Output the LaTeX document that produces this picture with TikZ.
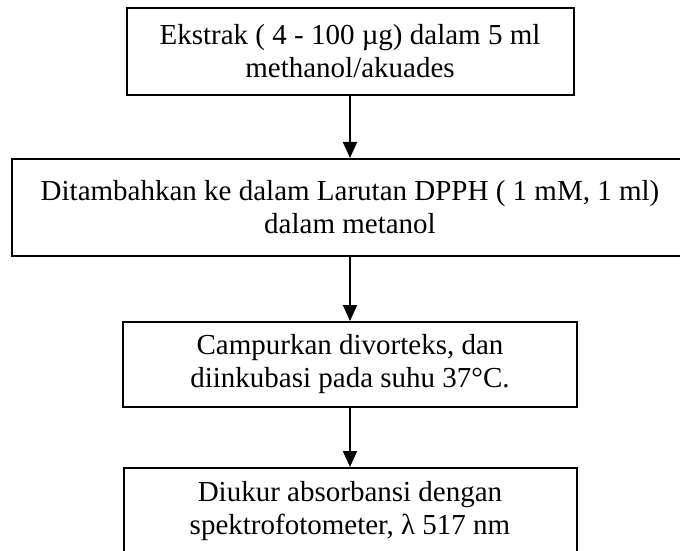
\documentclass[tikz,border=0pt]{standalone}
\usepackage{fontspec}
\setmainfont{Liberation Serif}
\usetikzlibrary{arrows.meta}
\begin{document}
\begin{tikzpicture}[x=0.5pt,y=-0.5pt,
  stepbox/.style={draw, line width=1pt, rectangle, align=center, inner sep=0pt,
    font=\fontsize{14.5pt}{16.5pt}\selectfont},
  arr/.style={line width=1pt, -{Triangle[width=7pt,length=8pt]}}]
\useasboundingbox (0,0) rectangle (680,551);
\node[stepbox, minimum width=223.5pt, minimum height=43.5pt] (b1) at (350,51.5)
  {Ekstrak ( 4 - 100 µg) dalam 5 ml\\methanol/akuades};
\node[stepbox, minimum width=338pt, minimum height=48.5pt] (b2) at (350,207.5)
  {Ditambahkan ke dalam Larutan DPPH ( 1 mM, 1 ml)\\dalam metanol};
\node[stepbox, minimum width=227pt, minimum height=42.5pt] (b3) at (350,364.5)
  {Campurkan divorteks, dan\\diinkubasi pada suhu 37°C.};
\node[stepbox, minimum width=226.5pt, minimum height=43pt] (b4) at (350,511)
  {Diukur absorbansi dengan\\spektrofotometer, λ 517 nm};
\draw[arr] (b1.south) -- (b2.north);
\draw[arr] (b2.south) -- (b3.north);
\draw[arr] (b3.south) -- (b4.north);
\end{tikzpicture}
\end{document}
